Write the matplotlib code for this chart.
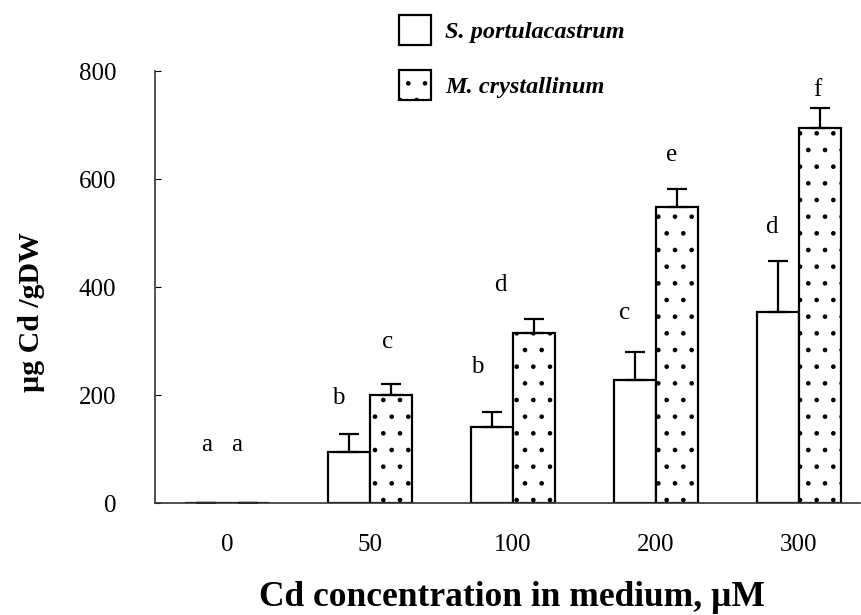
import matplotlib.pyplot as plt
import numpy as np
from matplotlib.patches import Patch

plt.rcParams['font.family'] = ['Liberation Serif', 'DejaVu Serif']
plt.rcParams['hatch.linewidth'] = 0.9

conc = ['0', '50', '100', '200', '300']
sp = [0, 94, 141, 228, 354]
sp_err = [0, 34, 27, 52, 94]
mc = [0, 200, 315, 548, 694]
mc_err = [0, 20, 26, 33, 37]

# letters: (x in group units, y in data units)
let_txt = ['a', 'a', 'b', 'c', 'b', 'd', 'c', 'e', 'd', 'f']
let_x = [-0.14, 0.07, 0.78, 1.12, 1.75, 1.91, 2.78, 3.11, 3.81, 4.13]
let_y = [107, 107, 194, 298, 252, 404, 352, 644, 511, 764]

fig = plt.figure(figsize=(8.61, 6.15), dpi=100)
ax = fig.add_axes([155/861, 112/615, 705/861, 432/615])

x = np.arange(len(conc))
w = 0.294
ekw = dict(elinewidth=1.6, capthick=1.6, ecolor='black')
ax.bar(x - w/2, sp, w, color='white', edgecolor='black', linewidth=1.6,
       yerr=[np.zeros(5), sp_err], capsize=7.2, error_kw=ekw)
ax.bar(x + w/2, mc, w, color='white', edgecolor='black', linewidth=1.6,
       hatch='.', yerr=[np.zeros(5), mc_err], capsize=7.2, error_kw=ekw)

for t, lx, ly in zip(let_txt, let_x, let_y):
    ax.text(lx, ly, t, ha='center', va='center', fontsize=18)

ax.set_xlim(-0.503, 4.427)
ax.set_ylim(0, 800)
ax.set_xticks(x)
ax.set_xticklabels(conc, fontsize=18)
ax.set_yticks([0, 200, 400, 600, 800])
ax.tick_params(axis='x', length=0, pad=22)
ax.tick_params(axis='y', direction='in', length=4, pad=28, labelsize=18)
for s in ['top', 'right']:
    ax.spines[s].set_visible(False)
for s in ['left', 'bottom']:
    ax.spines[s].set_color('#333333')
    ax.spines[s].set_linewidth(1.2)

fig.text(32/861, 1 - 312/615, 'µg Cd /gDW', rotation=90, ha='center',
         va='center', fontsize=21.5, fontweight='bold')
fig.text(512/861, 1 - 606/615, 'Cd concentration in medium, µM', ha='center',
         va='baseline', fontsize=25.5, fontweight='bold')

handles = [Patch(facecolor='white', edgecolor='black', linewidth=1.6),
           Patch(facecolor='white', edgecolor='black', linewidth=1.6, hatch='.')]
fig.legend(handles, ['S. portulacastrum', 'M. crystallinum'],
           loc='upper left', bbox_to_anchor=(399/861, 1 - 15/615),
           frameon=False, borderpad=0, borderaxespad=0,
           handlelength=1.3, handleheight=1.5, handletextpad=0.6,
           labelspacing=1.05, prop=dict(size=17.5, weight='bold', style='italic'))

fig.savefig('out.png', dpi=100)
